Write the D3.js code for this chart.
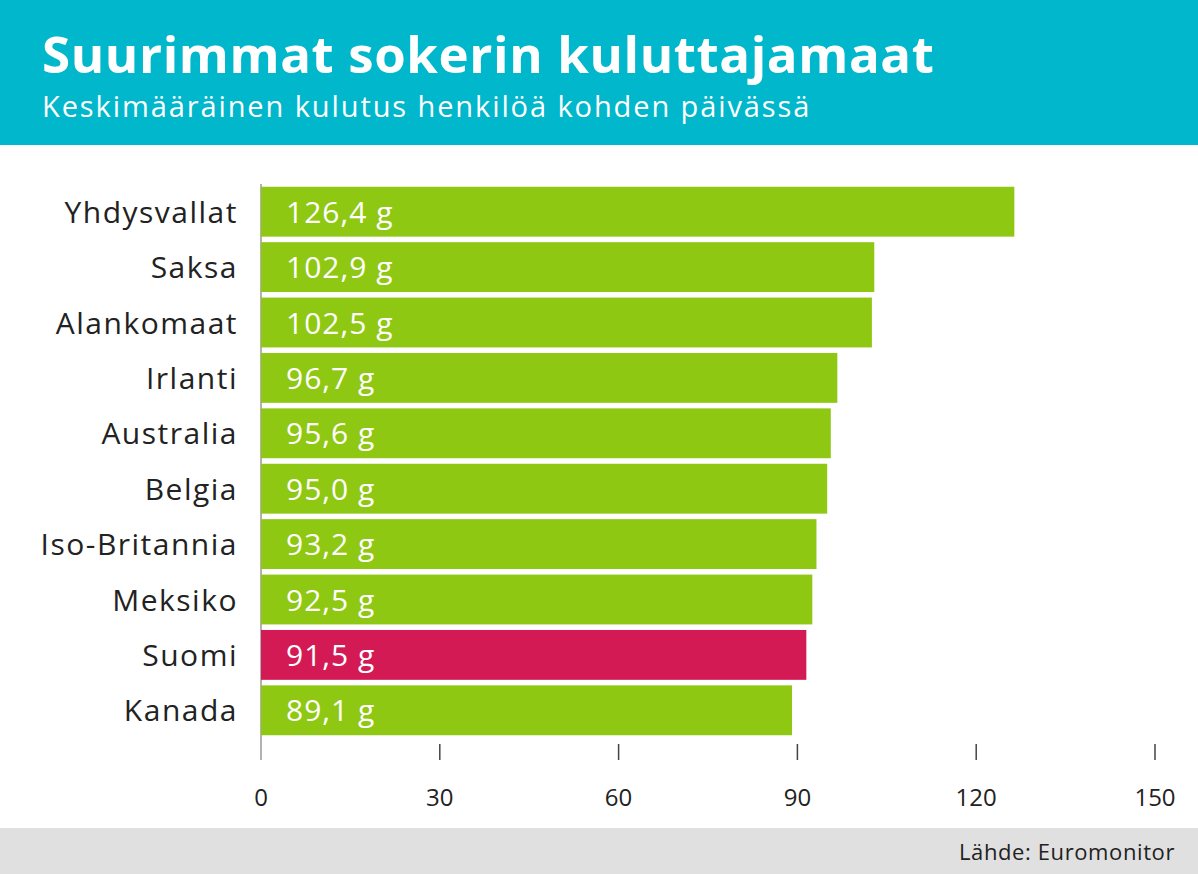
<!DOCTYPE html>
<html>
<head>
<meta charset="utf-8">
<script src="https://cdn.jsdelivr.net/npm/d3@7"></script>
<style>
  body { margin: 0; background: #fff; }
  svg { display: block; font-family: "Open Sans", Lato, sans-serif; }
</style>
</head>
<body>
<div id="chart"></div>
<script>
// Data
const countries = ["Yhdysvallat", "Saksa", "Alankomaat", "Irlanti", "Australia", "Belgia", "Iso-Britannia", "Meksiko", "Suomi", "Kanada"];
const values = [126.4, 102.9, 102.5, 96.7, 95.6, 95.0, 93.2, 92.5, 91.5, 89.1];
const highlight = ["Suomi"];
const xTicks = [0, 30, 60, 90, 120, 150];

const width = 1198, height = 874;
const data = countries.map((c, i) => ({ country: c, value: values[i] }));

const svg = d3.select("#chart").append("svg")
  .attr("width", width).attr("height", height);

// Otsikkoalue
svg.append("rect").attr("width", width).attr("height", 145).attr("fill", "#00b7cc");
svg.append("text").attr("x", 42).attr("y", 73)
  .attr("fill", "#fff").attr("font-size", 51).attr("font-weight", 700).attr("letter-spacing", 0.6)
  .text("Suurimmat sokerin kuluttajamaat");
svg.append("text").attr("x", 42).attr("y", 117)
  .attr("fill", "#fff").attr("font-size", 29).attr("letter-spacing", 1.9)
  .text("Keskimääräinen kulutus henkilöä kohden päivässä");

// Alaosa
svg.append("rect").attr("y", 828).attr("width", width).attr("height", 46).attr("fill", "#e0e0e0");
svg.append("text").attr("x", 1175).attr("y", 860).attr("text-anchor", "end")
  .attr("font-size", 22).attr("letter-spacing", 0.6).attr("fill", "#222").text("Lähde: Euromonitor");

// Skaalat
const x = d3.scaleLinear().domain([0, 150]).range([261, 1155]);
const y = d3.scaleBand().domain(countries).range([184, 738]).paddingInner(0.1).paddingOuter(0.05);

// Pystyviiva ja tikit
svg.append("line").attr("x1", x(0)).attr("x2", x(0)).attr("y1", 184).attr("y2", 760)
  .attr("stroke", "#999").attr("stroke-width", 1.5);
svg.selectAll(".tick").data(xTicks.slice(1)).enter().append("line")
  .attr("x1", d => x(d)).attr("x2", d => x(d)).attr("y1", 744).attr("y2", 760)
  .attr("stroke", "#444").attr("stroke-width", 1.5);
svg.selectAll(".ticklabel").data(xTicks).enter().append("text")
  .attr("x", d => x(d)).attr("y", 806).attr("text-anchor", "middle")
  .attr("font-size", 24).attr("fill", "#222").text(d => d);

// Palkit
svg.selectAll(".bar").data(data).enter().append("rect")
  .attr("x", x(0)).attr("y", d => y(d.country))
  .attr("width", d => x(d.value) - x(0)).attr("height", y.bandwidth())
  .attr("fill", d => highlight.includes(d.country) ? "#d41a55" : "#8fc813");

// Arvot
svg.selectAll(".val").data(data).enter().append("text")
  .attr("x", 286).attr("y", d => y(d.country) + y.bandwidth() / 2 + 11)
  .attr("font-size", 30).attr("letter-spacing", 1).attr("fill", "#fff")
  .text(d => d.value.toFixed(1).replace(".", ",") + " g");

// Maat
svg.selectAll(".name").data(data).enter().append("text")
  .attr("x", 238).attr("y", d => y(d.country) + y.bandwidth() / 2 + 11)
  .attr("text-anchor", "end").attr("font-size", 30).attr("letter-spacing", 1.5).attr("fill", "#222")
  .text(d => d.country);
</script>
</body>
</html>
